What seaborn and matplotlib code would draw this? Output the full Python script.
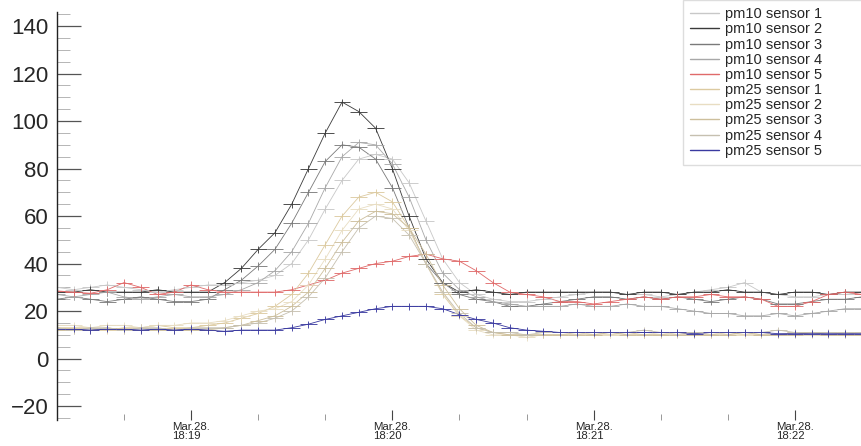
import pandas as pd
import matplotlib
matplotlib.use("Agg")
import matplotlib.pyplot as plt
import matplotlib.dates as mdates
from matplotlib.lines import Line2D
from matplotlib.ticker import MultipleLocator
import seaborn as sns

# one reading every 5 s, starting 18:18:20
start_time = "2024-03-28 18:18:20"
n_points = 49

pm10_sensor1 = [30, 29, 30, 31, 30, 29, 28, 29, 30, 31,
                31, 32, 33, 35, 40, 50, 63, 75, 84, 86,
                84, 74, 58, 42, 32, 27, 25, 24, 24, 25,
                26, 27, 28, 28, 27, 27, 26, 27, 28, 29,
                30, 32, 28, 27, 26, 26, 27, 27, 28]
pm10_sensor2 = [28, 28, 29, 28, 28, 28, 29, 28, 28, 28,
                32, 38, 46, 53, 65, 80, 95, 108, 104, 97,
                80, 60, 42, 32, 28, 29, 28, 27, 28, 28,
                28, 28, 28, 28, 27, 28, 28, 27, 28, 28,
                29, 28, 28, 27, 28, 28, 27, 28, 28]
pm10_sensor3 = [25, 26, 25, 24, 25, 26, 25, 24, 24, 25,
                29, 33, 39, 46, 57, 70, 83, 90, 89, 84,
                72, 55, 40, 32, 27, 25, 24, 22, 22, 23,
                24, 25, 26, 26, 25, 26, 25, 26, 25, 24,
                25, 26, 25, 23, 23, 24, 25, 25, 26]
pm10_sensor4 = [27, 26, 27, 28, 26, 25, 26, 27, 26, 26,
                27, 29, 32, 37, 45, 57, 72, 85, 91, 90,
                82, 68, 50, 36, 29, 26, 24, 23, 22, 22,
                22, 23, 22, 22, 23, 22, 22, 21, 20, 19,
                19, 18, 18, 19, 18, 19, 20, 21, 21]
pm10_sensor5 = [28.5, 28, 27.5, 29, 32, 30, 27, 28, 31, 29,
                28, 28, 28, 28, 29, 31, 33, 36, 38, 40,
                41, 43, 44, 42, 41, 37, 32, 28, 27, 26,
                24, 24, 23, 24, 25, 26, 25, 26, 26, 27,
                26, 26, 25, 22, 22, 24, 27, 28, 27]
pm25_sensor1 = [13, 13, 13, 12, 13, 13, 14, 13, 13, 14,
                15, 17, 19, 22, 27, 36, 48, 60, 68, 70,
                66, 55, 40, 27, 18, 13, 11, 10, 10, 10,
                10, 11, 10, 10, 11, 10, 10, 11, 10, 10,
                11, 10, 10, 10, 11, 10, 10, 10, 10]
pm25_sensor2 = [14, 14, 13, 14, 14, 13, 14, 14, 15, 15,
                16, 18, 20, 21, 24, 31, 42, 54, 63, 65,
                63, 54, 40, 28, 18, 12, 10, 10, 9, 10,
                10, 10, 11, 10, 10, 10, 11, 10, 10, 11,
                10, 10, 11, 10, 10, 10, 10, 11, 10]
pm25_sensor3 = [12, 12, 12, 13, 12, 12, 12, 12, 12, 12,
                13, 14, 16, 18, 22, 28, 38, 49, 58, 62,
                61, 55, 44, 31, 21, 14, 11, 10, 10, 10,
                10, 10, 10, 11, 10, 10, 10, 10, 10, 10,
                10, 11, 10, 10, 10, 11, 10, 10, 10]
pm25_sensor4 = [13, 12, 13, 13, 12, 13, 13, 12, 13, 13,
                13, 14, 15, 17, 20, 26, 34, 45, 55, 60,
                59, 52, 40, 28, 19, 13, 11, 11, 10, 11,
                11, 11, 11, 11, 11, 12, 11, 11, 11, 11,
                11, 11, 11, 12, 11, 11, 11, 11, 11]
pm25_sensor5 = [12.5, 12.5, 12, 12.5, 12.5, 12, 12.5, 12, 12.5, 12,
                11.5, 12, 12, 12, 13, 14.5, 16.5, 18, 19.5, 21,
                22, 22, 22, 21, 18.5, 16.5, 15, 13, 12, 11.5,
                11, 11, 11, 11, 11, 11, 11, 11, 10.5, 11,
                11, 11, 11, 10.5, 10.5, 10.5, 10.5, 10.5, 10.5]

series_names = ["pm10 sensor 1", "pm10 sensor 2", "pm10 sensor 3", "pm10 sensor 4",
                "pm10 sensor 5", "pm25 sensor 1", "pm25 sensor 2", "pm25 sensor 3",
                "pm25 sensor 4", "pm25 sensor 5"]
series_values = [pm10_sensor1, pm10_sensor2, pm10_sensor3, pm10_sensor4, pm10_sensor5,
                 pm25_sensor1, pm25_sensor2, pm25_sensor3, pm25_sensor4, pm25_sensor5]
series_colors = ["#c8c8c8", "#3a3a3a", "#7a7a7a", "#a8a8a8", "#e06a6a",
                 "#dccaa0", "#e8ddc2", "#cdbf9c", "#c6c0b0", "#3a3aa0"]

times = pd.date_range(start_time, periods=n_points, freq="5s")
df = pd.concat([pd.DataFrame({"time": times, "value": vals, "sensor": name})
                for name, vals in zip(series_names, series_values)], ignore_index=True)

sns.set_theme(style="ticks")
plt.rcParams["font.family"] = ["Liberation Sans", "DejaVu Sans"]

fig = plt.figure(figsize=(8.62, 4.46), dpi=100)
ax = fig.add_axes([0.066, 0.058, 0.934, 0.915])

palette = dict(zip(series_names, series_colors))
sns.lineplot(data=df, x="time", y="value", hue="sensor", palette=palette,
             estimator=None, linewidth=0.6, legend=False, ax=ax)

# ROOT style error crosses on every reading
xnum = mdates.date2num(times)
for vals, color in zip(series_values, series_colors):
    ax.errorbar(xnum, vals, xerr=2.5 / 86400, yerr=1.5, fmt="none",
                ecolor=color, elinewidth=0.7, capsize=0, alpha=0.9)

ax.set_xlim(times[0], times[-1])
ax.set_ylim(-25.9, 145.9)
ax.set_xlabel("")
ax.set_ylabel("")

ax.xaxis.set_major_locator(mdates.MinuteLocator())
ax.xaxis.set_minor_locator(mdates.SecondLocator(bysecond=[20, 40]))
ax.xaxis.set_major_formatter(mdates.DateFormatter("%b.%d.\n%H:%M"))
ax.set_yticks(range(-20, 141, 20))
ax.yaxis.set_minor_locator(MultipleLocator(5))

ax.tick_params(axis="x", which="major", direction="in", length=7, width=0.8,
               color="#444444", labelsize=8.2, pad=1)
ax.tick_params(axis="x", which="minor", direction="in", length=4, width=0.6, color="#888888")
ax.tick_params(axis="y", which="major", direction="in", length=17, width=0.9,
               color="#555555", labelsize=16, pad=6)
ax.tick_params(axis="y", which="minor", direction="in", length=9, width=0.6, color="#aaaaaa")
for lbl in ax.get_xticklabels():
    lbl.set_multialignment("left")
    lbl.set_linespacing(0.9)

for side in ["top", "right", "bottom"]:
    ax.spines[side].set_visible(False)
ax.spines["left"].set_color("#222222")
ax.spines["left"].set_linewidth(1.0)

# ROOT-like legend box: wider than its entries, pinned to the top right corner
handles = [Line2D([0], [0], color=c, linewidth=1.0) for c in series_colors]
fig.legend(handles, series_names, loc="upper left", mode="expand",
           bbox_to_anchor=(683 / 862, 1 - 173 / 446, 179 / 862, 173 / 446),
           fontsize=10.5, labelspacing=0.08, handlelength=2.0, handletextpad=0.35,
           borderpad=0.5, borderaxespad=0, frameon=True, fancybox=False,
           edgecolor="#dddddd", framealpha=1.0)

fig.savefig("out.png", dpi=100)
